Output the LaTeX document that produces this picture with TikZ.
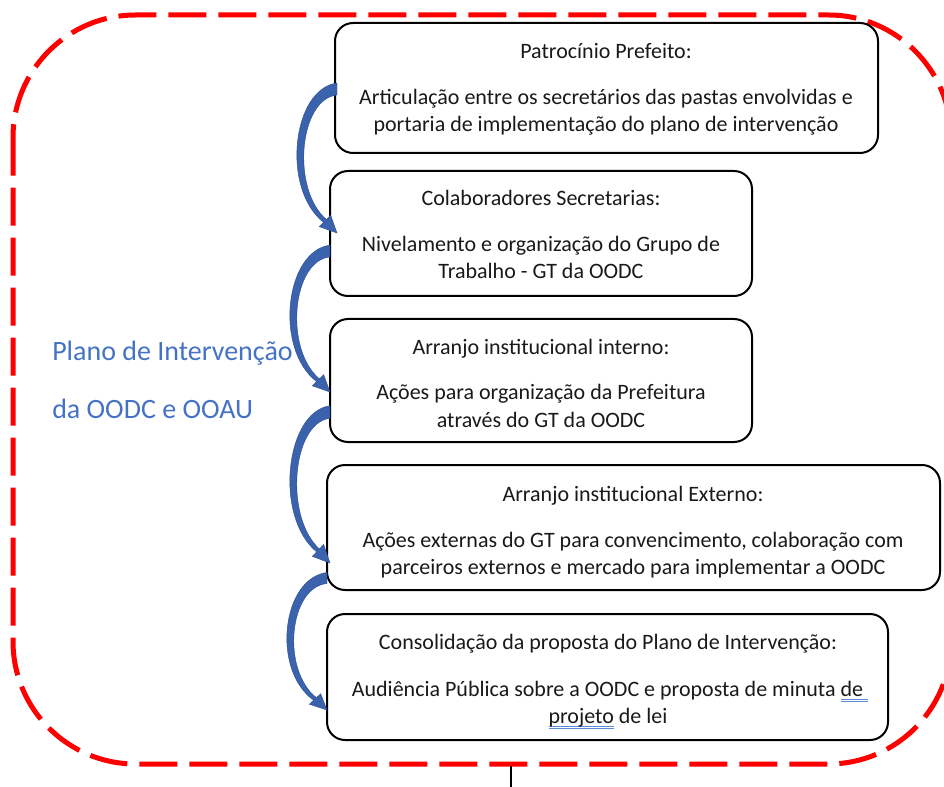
\documentclass[tikz,border=0pt]{standalone}
\usepackage{fontspec}
\setmainfont{Carlito}
\definecolor{arrblue}{RGB}{59,98,172}
\definecolor{arrdark}{RGB}{44,78,145}
\definecolor{txtblue}{RGB}{68,114,196}
\definecolor{ulblue}{RGB}{91,141,214}
\definecolor{dashred}{RGB}{255,0,0}
\newcommand\wul[1]{\setbox0=\hbox{#1}\makebox[0pt][l]{\color{ulblue}\rule[-2.6pt]{\wd0}{0.5pt}}\makebox[0pt][l]{\color{ulblue}\rule[-3.9pt]{\wd0}{0.5pt}}\box0\relax}
\newcommand\bluearr[3]{%
  \begin{scope}[shift={(#1,#2)}, yscale=#3/144]
    \fill[arrblue, draw=arrdark, line width=0.3pt]
      (0,-6) .. controls (-45,0) and (-56,100) .. (-13.4,133.4)
      -- (-17.7,137.7) -- (0,144) -- (-6.3,126.3) -- (-10.6,130.6)
      .. controls (-46,100) and (-38,10) .. (0,6) -- cycle;
  \end{scope}}
\begin{document}
\begin{tikzpicture}[x=0.75pt,y=-0.75pt,
  box/.style={draw=black, line width=1.5pt, rounded corners=13.5pt, inner sep=0pt},
  txt/.style={anchor=base, font=\fontsize{16.5pt}{19pt}\selectfont, text=black!90, inner sep=0pt},
  side/.style={anchor=base west, font=\fontsize{21pt}{25pt}\selectfont, text=txtblue, inner sep=0pt}]
\useasboundingbox (0,0) rectangle (944,787);
\clip (0,0) rectangle (944,787);
\draw[dashred, line width=3.75pt, dash pattern=on 28.5pt off 9pt, rounded corners=92pt]
  (13,15) rectangle (951,764);

\node[box, minimum width=407.25pt, minimum height=97.5pt] (b1) at (606.5,88) {};
\node[box, minimum width=316.5pt, minimum height=93.75pt] (b2) at (541,233.5) {};
\node[box, minimum width=316.5pt, minimum height=92.25pt] (b3) at (541,380.5) {};
\node[box, minimum width=459.75pt, minimum height=93.75pt] (b4) at (633.5,527.5) {};
\node[box, minimum width=420.75pt, minimum height=94.5pt] (b5) at (607.5,677) {};

\node[txt] (t1a) at (606,59) {Patrocínio Prefeito:};
\node[txt] (t1b) at (606,105) {Articulação entre os secretários das pastas envolvidas e};
\node[txt] (t1c) at (606,132) {portaria de implementação do plano de intervenção};

\node[txt] (t2a) at (541,206) {Colaboradores Secretarias:};
\node[txt] (t2b) at (541,252) {Nivelamento e organização do Grupo de};
\node[txt] (t2c) at (541,279) {Trabalho - GT da OODC};

\node[txt] (t3a) at (541,354) {Arranjo institucional interno:};
\node[txt] (t3b) at (541,399) {Ações para organização da Prefeitura};
\node[txt] (t3c) at (541,427) {através do GT da OODC};

\node[txt] (t4a) at (633,501) {Arranjo institucional Externo:};
\node[txt] (t4b) at (633,547) {Ações externas do GT para convencimento, colaboração com};
\node[txt] (t4c) at (633,574) {parceiros externos e mercado para implementar a OODC};

\node[txt] (t5a) at (608,649) {Consolidação da proposta do Plano de Intervenção:};
\node[txt] (t5b) at (610,696) {Audiência Pública sobre a OODC e proposta de minuta \wul{de\ }};
\node[txt] (t5c) at (608,723) {\wul{projeto} de lei};

\node[side] (s1) at (52,360) {Plano de Intervenção};
\node[side] (s2) at (52,418) {da OODC e OOAU};

\bluearr{337}{89}{144}
\bluearr{330}{251}{141}
\bluearr{330}{412}{151}
\bluearr{327}{578}{132}

\coordinate (m1) at (511,766);
\coordinate (m2) at (511,787);
\draw[black, line width=0.9pt] (m1) -- (m2);
\end{tikzpicture}
\end{document}
